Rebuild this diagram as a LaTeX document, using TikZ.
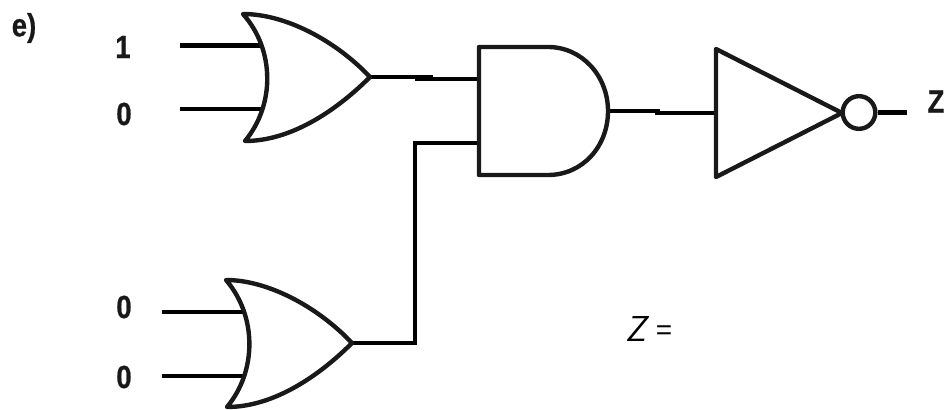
\documentclass[tikz,border=0pt]{standalone}
\usepackage{fontspec}
\setmainfont[FakeStretch=0.86,BoldFont={Liberation Sans Bold},BoldFeatures={FakeStretch=0.86,FakeBold=0.6}]{Liberation Sans}
\newfontfamily\eqfont{Liberation Sans}
\tikzset{
  wire/.style={line width=3.4pt,black,line join=miter},
  gate/.style={line width=3.3pt,black!90,line join=round},
  lbl/.style={font=\bfseries\fontsize{24}{28}\selectfont,inner sep=0pt,anchor=center,text=black!90}
}
\begin{document}
\begin{tikzpicture}[x=0.75pt,y=-0.75pt]
\useasboundingbox (0,0) rectangle (945,410);
\fill[white] (0,0) rectangle (945,410);
\node[lbl] (e) at (24,28) {e)};
\node[lbl] (l1) at (123,47) {1};
\node[lbl] (l2) at (124,114) {0};
\node[lbl] (l3) at (124,307) {0};
\node[lbl] (l4) at (124,377) {0};
\node[lbl] (lz) at (936,101.5) {Z};
\coordinate (i1) at (180,45.5);
\coordinate (i2) at (180,109);
\coordinate (i3) at (162,312);
\coordinate (i4) at (162,376);
\coordinate (o1a) at (262,45.5);
\coordinate (o1b) at (262,109);
\coordinate (o2a) at (244,312);
\coordinate (o2b) at (244,376);
\coordinate (o1o) at (370,77);
\coordinate (o2o) at (352,343);
\coordinate (j1) at (433,77);
\coordinate (j2) at (415,79);
\coordinate (aa) at (479,79);
\coordinate (ab) at (479,143);
\coordinate (j3) at (415,143);
\coordinate (ao) at (608,111);
\coordinate (j4) at (660,111);
\coordinate (j5) at (655,113);
\coordinate (na) at (716,113);
\coordinate (zend) at (907,112.5);
\draw[wire] (i1) -- (o1a);
\draw[wire] (i2) -- (o1b);
\draw[wire] (i3) -- (o2a);
\draw[wire] (i4) -- (o2b);
\draw[wire] (o1o) -- (j1);
\draw[wire] (j2) -- (aa);
\draw[wire] (o2o) -| (j3) -- (ab);
\draw[wire] (ao) -- (j4);
\draw[wire] (j5) -- (na);
% OR gates
\draw[gate] (243,14) .. controls (285,14) and (335,40) .. (o1o) .. controls (335,112) and (290,141) .. (245,141) .. controls (275,105) and (275,50) .. (243,14) -- cycle;
\draw[gate] (226,280) .. controls (267,280) and (317,306) .. (o2o) .. controls (317,378) and (272,407) .. (227,407) .. controls (257,371) and (257,316) .. (226,280) -- cycle;
% AND gate
\draw[gate] (479,47) -- (548,47) .. controls (582,47) and (608,76) .. (ao) .. controls (608,147) and (582,175) .. (548,175) -- (479,175) -- cycle;
% NOT gate
\draw[gate] (716,49) -- (842,113) -- (716,177) -- cycle;
\node[draw=black!90,circle,line width=3.3pt,minimum size=24.5pt,inner sep=0pt,fill=white] (bub) at (859,112.5) {};
\draw[wire] (bub) -- (zend);
\node[inner sep=0pt,anchor=center] (zeq) at (649,329.5) {\sffamily\itshape\fontsize{27}{30}\selectfont Z\hspace{7pt}\raisebox{1.5pt}{\eqfont\upshape\fontsize{21}{24}\selectfont =}};
\end{tikzpicture}
\end{document}
